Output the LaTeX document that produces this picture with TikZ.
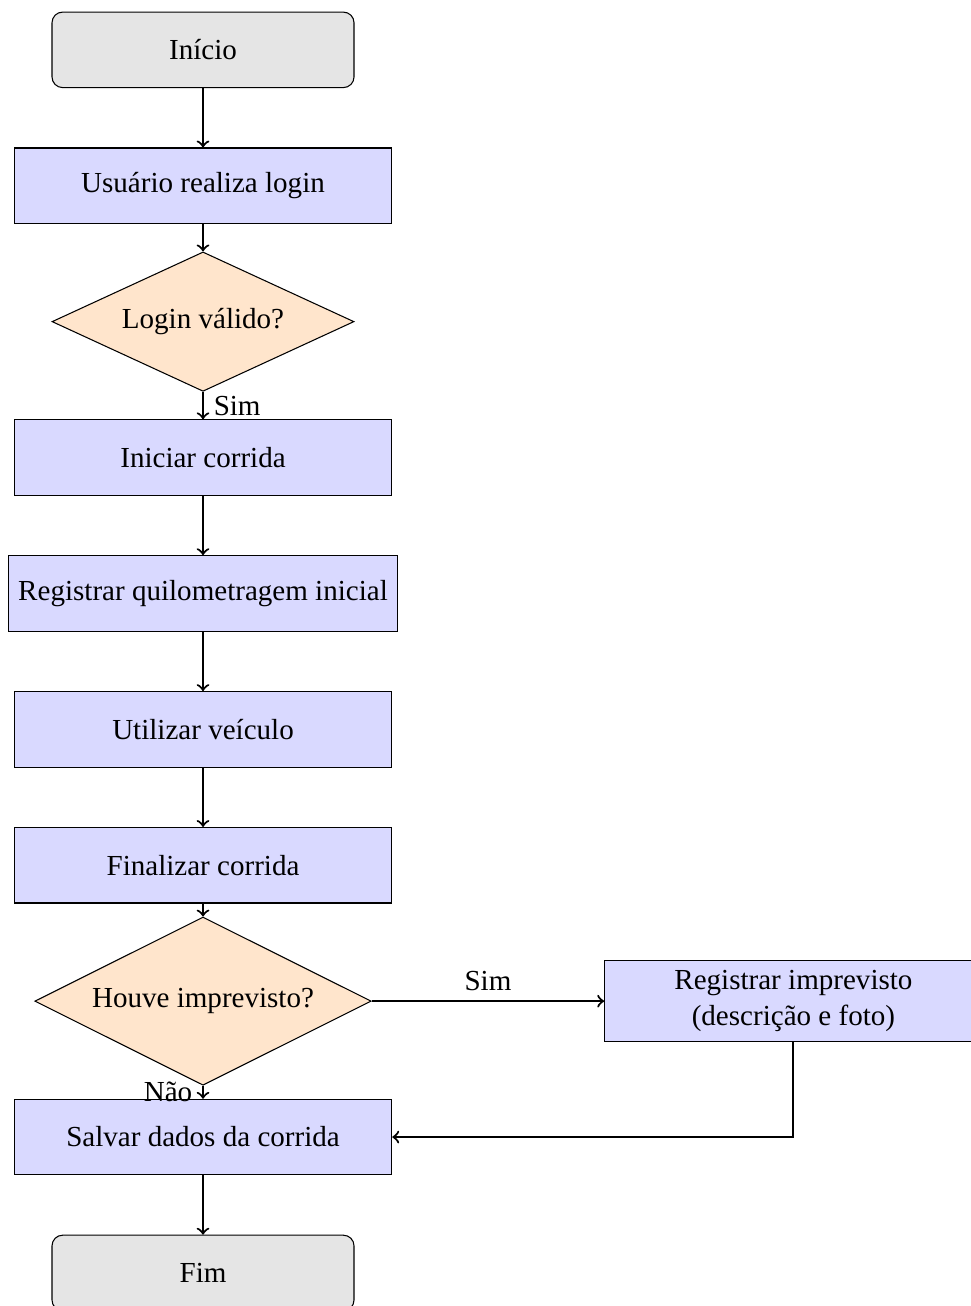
\documentclass[tikz,border=0pt,11pt]{standalone}
\usepackage{fontspec}
\setmainfont{Liberation Serif}
\usetikzlibrary{shapes.geometric}
\usetikzlibrary{positioning}

\begin{document}
\begin{tikzpicture}[node distance=1.8cm,on grid,
    terminal/.style={rectangle,rounded corners,draw,fill=gray!20,minimum width=4cm,minimum height=1cm,align=center},
    processo/.style={rectangle,draw,fill=blue!15,minimum width=5cm,minimum height=1cm,align=center},
    decisao/.style={diamond,aspect=2,draw,fill=orange!20,minimum width=4cm,inner sep=4pt,align=center},
    seta/.style={thick,->}]
    \useasboundingbox (-2.689,0.66) rectangle (10.172,-16.638);
    \node[terminal] (inicio) {Início};
    \node[processo,below=of inicio] (login) {Usuário realiza login};
    \node[decisao,below=of login] (valido) {Login válido?};
    \node[processo,below=of valido] (iniciar) {Iniciar corrida};
    \node[processo,below=of iniciar] (kminicial) {Registrar quilometragem inicial};
    \node[processo,below=of kminicial] (utilizar) {Utilizar veículo};
    \node[processo,below=of utilizar] (finalizar) {Finalizar corrida};
    \node[decisao,below=of finalizar] (imprevisto) {Houve imprevisto?};
    \node[processo,below=of imprevisto] (salvar) {Salvar dados da corrida};
    \node[terminal,below=of salvar] (fim) {Fim};
    \node[processo,right=7.82cm of imprevisto] (registro) {Registrar imprevisto\\(descrição e foto)};
    \draw[seta] (inicio) -- (login);
    \draw[seta] (login) -- (valido);
    \draw[seta] (valido) -- node[right] {Sim} (iniciar);
    \draw[seta] (iniciar) -- (kminicial);
    \draw[seta] (kminicial) -- (utilizar);
    \draw[seta] (utilizar) -- (finalizar);
    \draw[seta] (finalizar) -- (imprevisto);
    \draw[seta] (imprevisto) -- node[above] {Sim} (registro);
    \draw[seta] (imprevisto) -- node[left] {Não} (salvar);
    \draw[seta] (registro) |- (salvar);
    \draw[seta] (salvar) -- (fim);
\end{tikzpicture}
\end{document}
